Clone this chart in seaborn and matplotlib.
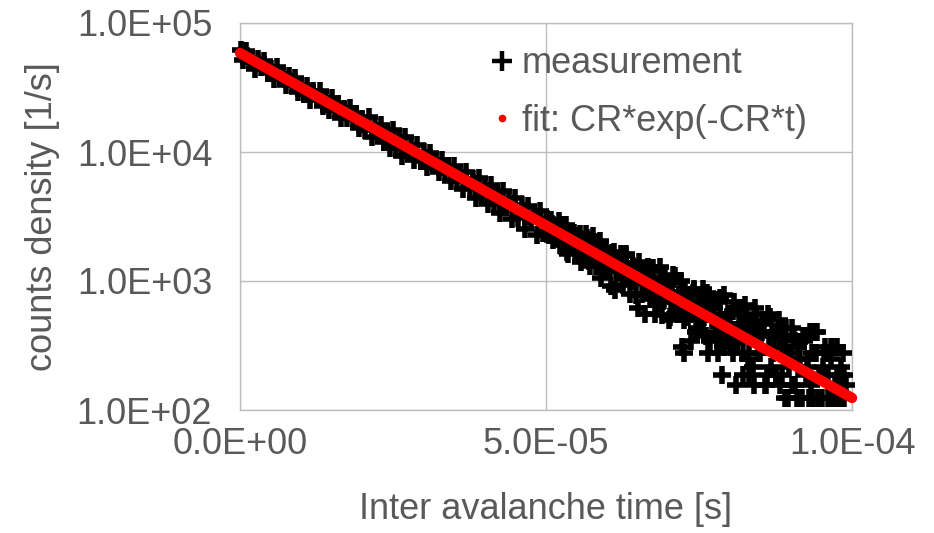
import matplotlib
matplotlib.use("Agg")
import matplotlib.pyplot as plt
from matplotlib.lines import Line2D
from matplotlib.ticker import FixedLocator, FixedFormatter
import seaborn as sns
import pandas as pd

# ---------------- data ----------------
# measurement, early part: inter-avalanche time [microseconds], counts density [1/s]
meas_t_us_early = [0.2, 0.5, 1.0, 1.5, 2.0, 2.5, 3.0, 3.5, 4.0, 4.5,
                   5.0, 5.5, 6.0, 6.5, 7.0, 7.5, 8.0, 8.5, 9.0, 9.5,
                   10.0, 10.5, 11.0, 11.5, 12.0, 12.5, 13.0, 13.5, 14.0, 14.5,
                   15.0, 15.5, 16.0, 16.5, 17.0, 17.5, 18.0, 18.5, 19.0, 19.5,
                   20.0, 20.5, 21.0, 21.5, 22.0, 22.5, 23.0, 23.5, 24.0, 24.5,
                   25.0, 25.5, 26.0, 26.5, 27.0, 27.5, 28.0, 28.5, 29.0, 29.5,
                   30.0, 30.5, 31.0, 31.5, 32.0, 32.5, 33.0, 33.5, 34.0, 34.5,
                   35.0, 35.5, 36.0, 36.5, 37.0, 37.5, 38.0, 38.5, 39.0, 39.5,
                   40.0, 40.5, 41.0, 41.5, 42.0, 42.5, 43.0, 43.5, 44.0, 44.5,
                   45.0, 45.5, 46.0, 46.5, 47.0, 47.5, 48.0, 48.5, 49.0, 49.5]
meas_y_early = [61240, 51600, 60510, 50140, 53760, 44110, 53000, 45730, 50740, 40790,
                43850, 37110, 45290, 37240, 40280, 33170, 38600, 33960, 37640, 29000,
                32860, 28180, 32700, 25080, 29890, 26000, 29690, 22930, 25440, 21070,
                26000, 21160, 23580, 18220, 21550, 18310, 22010, 18160, 19790, 15320,
                18090, 14890, 18610, 13080, 16290, 13890, 16310, 11980, 13880, 10740,
                14690, 11190, 12980, 9380, 13090, 10210, 11050, 8594, 11374, 8559,
                10052, 7669, 9907, 8030, 8399, 6958, 8645, 6877, 7749, 5943,
                7796, 6229, 6757, 5161, 6982, 5288, 6229, 4400, 6253, 4792,
                5357, 3962, 5564, 4066, 4933, 3375, 4949, 3715, 4129, 3041,
                4432, 3071, 3908, 2538, 3822, 2858, 3319, 2288, 3507, 2359]

# measurement, late (noisy) part
meas_t_us_late = [50.0, 50.25, 50.5, 50.75, 51.0, 51.25, 51.5, 51.75, 52.0, 52.25,
                  52.5, 52.75, 53.0, 53.25, 53.5, 53.75, 54.0, 54.25, 54.5, 54.75,
                  55.0, 55.25, 55.5, 55.75, 56.0, 56.25, 56.5, 56.75, 57.0, 57.25,
                  57.5, 57.75, 58.0, 58.25, 58.5, 58.75, 59.0, 59.25, 59.5, 59.75,
                  60.0, 60.25, 60.5, 60.75, 61.0, 61.25, 61.5, 61.75, 62.0, 62.25,
                  62.5, 62.75, 63.0, 63.25, 63.5, 63.75, 64.0, 64.25, 64.5, 64.75,
                  65.0, 65.25, 65.5, 65.75, 66.0, 66.25, 66.5, 66.75, 67.0, 67.25,
                  67.5, 67.75, 68.0, 68.25, 68.5, 68.75, 69.0, 69.25, 69.5, 69.75,
                  70.0, 70.25, 70.5, 70.75, 71.0, 71.25, 71.5, 71.75, 72.0, 72.25,
                  72.5, 72.75, 73.0, 73.25, 73.5, 73.75, 74.0, 74.25, 74.5, 74.75,
                  75.0, 75.25, 75.5, 75.75, 76.0, 76.25, 76.5, 76.75, 77.0, 77.25,
                  77.5, 77.75, 78.0, 78.25, 78.5, 78.75, 79.0, 79.25, 79.5, 79.75,
                  80.0, 80.25, 80.5, 80.75, 81.0, 81.25, 81.5, 81.75, 82.0, 82.25,
                  82.5, 82.75, 83.0, 83.25, 83.5, 83.75, 84.0, 84.25, 84.5, 84.75,
                  85.0, 85.25, 85.5, 85.75, 86.0, 86.25, 86.5, 86.75, 87.0, 87.25,
                  87.5, 87.75, 88.0, 88.25, 88.5, 88.75, 89.0, 89.25, 89.5, 89.75,
                  90.0, 90.25, 90.5, 90.75, 91.0, 91.25, 91.5, 91.75, 92.0, 92.25,
                  92.5, 92.75, 93.0, 93.25, 93.5, 93.75, 94.0, 94.25, 94.5, 94.75,
                  95.0, 95.25, 95.5, 95.75, 96.0, 96.25, 96.5, 96.75, 97.0, 97.25,
                  97.5, 97.75, 98.0, 98.25, 98.5, 98.75, 99.0]
meas_y_late = [2836, 2393, 2268, 2965, 2783, 2409, 2482, 2636, 2217, 1886,
               2735, 2326, 2159, 2701, 1677, 1983, 2283, 2198, 2342, 1710,
               1781, 2219, 1992, 1406, 1836, 1832, 2300, 2151, 1423, 1537,
               1834, 1761, 1532, 1306, 1817, 2056, 1064, 1479, 1542, 1669,
               1624, 1200, 1201, 1658, 1655, 856, 1245, 1427, 1286, 1623,
               932, 1130, 1557, 1249, 1248, 795, 1006, 1306, 1268, 1067,
               614, 1414, 1234, 790, 970, 1113, 1079, 891, 723, 1186,
               1253, 551, 740, 908, 911, 1044, 545, 710, 1048, 924,
               806, 527, 682, 1116, 1085, 682, 558, 775, 775, 310,
               279, 868, 775, 527, 589, 651, 806, 868, 403, 434,
               682, 651, 558, 527, 775, 806, 279, 341, 558, 620,
               620, 403, 372, 682, 744, 186, 310, 465, 465, 558,
               372, 310, 589, 682, 155, 341, 465, 465, 372, 186,
               651, 496, 248, 341, 403, 217, 155, 558, 434, 279,
               279, 403, 496, 155, 155, 558, 310, 217, 403, 310,
               186, 403, 496, 155, 186, 310, 310, 434, 124, 217,
               248, 155, 372, 341, 124, 217, 248, 124, 372, 372,
               186, 248, 124, 155, 279, 279, 403, 403, 124, 124,
               186, 217, 279, 279, 124, 124, 310, 310, 124, 155,
               186, 124, 124, 217, 279, 186, 155]

# measurement, late part, intermediate time bins
meas_t_us_late2 = [50.125, 50.625, 51.125, 51.625, 52.125, 52.625, 53.125, 53.625, 54.125, 54.625,
                   55.125, 55.625, 56.125, 56.625, 57.125, 57.625, 58.125, 58.625, 59.125, 59.625,
                   60.125, 60.625, 61.125, 61.625, 62.125, 62.625, 63.125, 63.625, 64.125, 64.625,
                   65.125, 65.625, 66.125, 66.625, 67.125, 67.625, 68.125, 68.625, 69.125, 69.625,
                   70.125, 70.625, 71.125, 71.625, 72.125, 72.625, 73.125, 73.625, 74.125, 74.625,
                   75.125, 75.625, 76.125, 76.625, 77.125, 77.625, 78.125, 78.625, 79.125, 79.625,
                   80.125, 80.625, 81.125, 81.625, 82.125, 82.625, 83.125, 83.625, 84.125, 84.625,
                   85.125, 85.625, 86.125, 86.625, 87.125, 87.625, 88.125, 88.625, 89.125, 89.625,
                   90.125, 90.625, 91.125, 91.625, 92.125, 92.625, 93.125, 93.625, 94.125, 94.625,
                   95.125, 95.625, 96.125, 96.625, 97.125, 97.625, 98.125, 98.625]
meas_y_late2 = [3016, 2477, 2093, 2627, 2903, 2050, 2300, 1610, 2342, 2024,
                1668, 2317, 1726, 2002, 1318, 2232, 1677, 1428, 1818, 1186,
                1570, 920, 1664, 1276, 1435, 1041, 1625, 1049, 1203, 781,
                1260, 1047, 558, 1278, 887, 1027, 667, 1278, 701, 883,
                496, 961, 744, 589, 992, 496, 744, 341, 837, 620,
                496, 868, 372, 651, 496, 713, 279, 496, 775, 341,
                558, 279, 403, 620, 279, 527, 186, 434, 620, 279,
                372, 465, 186, 527, 279, 186, 372, 434, 124, 279,
                434, 155, 310, 124, 341, 217, 403, 124, 279, 186,
                124, 310, 186, 248, 124, 310, 186, 124]

# fit: CR*exp(-CR*t), end points of the fitted straight line (log scale)
fit_t = [0.0, 1.0e-4]
fit_y = [58500, 124]

# axes / tick labels
x_ticks = [0.0, 5.0e-5, 1.0e-4]
x_tick_labels = ["0.0E+00", "5.0E-05", "1.0E-04"]
y_ticks = [1e2, 1e3, 1e4, 1e5]
y_tick_labels = ["1.0E+02", "1.0E+03", "1.0E+04", "1.0E+05"]
x_label = "Inter avalanche time [s]"
y_label = "counts density [1/s]"
legend_labels = ["measurement", "fit: CR*exp(-CR*t)"]

# ---------------- style ----------------
sns.set_theme(style="white")
plt.rcParams["font.family"] = ["Liberation Sans", "DejaVu Sans"]
TXT = "#595959"
GRID = "#bdbdbd"

meas = pd.DataFrame({"t_us": meas_t_us_early + meas_t_us_late + meas_t_us_late2,
                     "y": meas_y_early + meas_y_late + meas_y_late2})
meas["t"] = meas["t_us"] * 1e-6
fit = pd.DataFrame({"t": fit_t, "y": fit_y})

fig = plt.figure(figsize=(9.34, 5.33), dpi=100)
ax = fig.add_axes([240 / 934, 1 - 410 / 533, 612 / 934, 387 / 533])
ax.set_yscale("log")
ax.set_xlim(0, 1.0e-4)
ax.set_ylim(1e2, 1e5)

sns.scatterplot(data=meas, x="t", y="y", marker="+", s=160, color="black",
                linewidth=4.0, ax=ax, clip_on=False, zorder=3, legend=False)
sns.lineplot(data=fit, x="t", y="y", color="#ff0000", linewidth=7.5,
             solid_capstyle="round", ax=ax, clip_on=False, zorder=4,
             legend=False)

ax.xaxis.set_major_locator(FixedLocator(x_ticks))
ax.xaxis.set_major_formatter(FixedFormatter(x_tick_labels))
ax.yaxis.set_major_locator(FixedLocator(y_ticks))
ax.yaxis.set_major_formatter(FixedFormatter(y_tick_labels))
ax.yaxis.set_minor_locator(FixedLocator([]))
ax.tick_params(axis="both", length=0, labelsize=26, labelcolor=TXT)
ax.tick_params(axis="y", pad=20)
ax.tick_params(axis="x", pad=12)

ax.grid(True, which="major", color=GRID, linewidth=1.0)
ax.set_axisbelow(True)
for sp in ax.spines.values():
    sp.set_color(GRID)
    sp.set_linewidth(1.0)

ax.set_xlabel(x_label, fontsize=26, color=TXT, labelpad=22)
ax.set_ylabel(y_label, fontsize=26, color=TXT, labelpad=12)

handles = [Line2D([], [], marker="+", color="black", linestyle="none",
                  markersize=14, markeredgewidth=3.2),
           Line2D([], [], marker="o", color="#ff0000", linestyle="none",
                  markersize=4.5)]
leg = ax.legend(handles, legend_labels, loc="upper left",
                bbox_to_anchor=(0.41, 0.94), frameon=False, fontsize=26,
                handlelength=0.6, handletextpad=0.25, labelspacing=0.63,
                borderpad=0, borderaxespad=0)
for txt in leg.get_texts():
    txt.set_color(TXT)

fig.savefig("out.png", dpi=100)
